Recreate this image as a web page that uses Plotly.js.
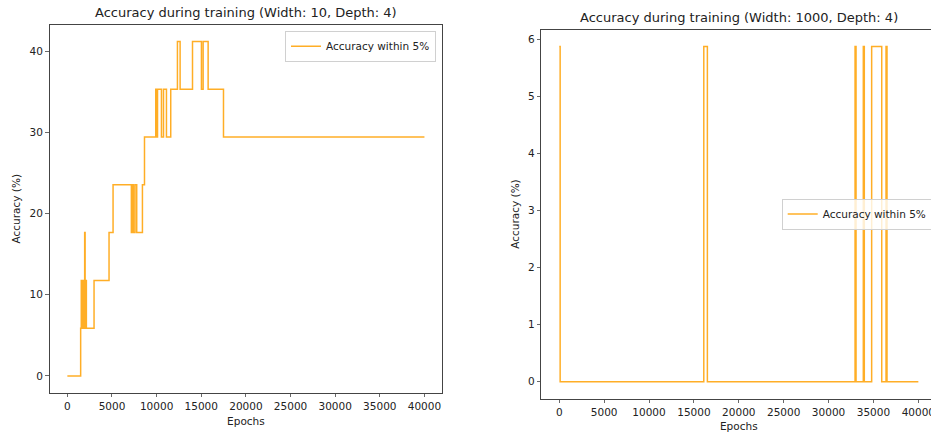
<!DOCTYPE html>
<html>
<head>
<meta charset="utf-8">
<script src="https://cdn.plot.ly/plotly-3.0.1.min.js"></script>
<style>
html, body { margin: 0; padding: 0; overflow: hidden; background: #fff; }
#chart { width: 940px; height: 435px; }
</style>
</head>
<body>
<div id="chart"></div>
<script>
// ---- data ----
const leftTitle = "Accuracy during training (Width: 10, Depth: 4)";
const rightTitle = "Accuracy during training (Width: 1000, Depth: 4)";
const seriesName = "Accuracy within 5%";
const xLabel = "Epochs";
const yLabel = "Accuracy (%)";

const leftEpochs = [0, 1490, 1560, 1620, 1700, 1760, 1840, 1900, 1940, 1990, 2050, 2130, 2990, 4670, 5120,
  7170, 7230, 7400, 7580, 7770, 8410, 8640, 9900, 10000, 10100, 10540, 10770, 11100, 11580,
  12330, 12630, 14020, 15020, 15210, 15770, 17490, 40000];
const leftAcc = [0, 5.88, 11.76, 5.88, 11.76, 5.88, 11.76, 5.88, 17.65, 5.88, 11.76, 5.88, 11.76, 17.65, 23.53,
  17.65, 23.53, 17.65, 23.53, 17.65, 23.53, 29.41, 35.29, 29.41, 35.29, 29.41, 35.29, 29.41, 35.29,
  41.18, 35.29, 41.18, 35.29, 41.18, 35.29, 29.41, 29.41];

const rightEpochs = [0, 100, 16100, 16500, 32950, 33060, 33870, 33980, 34800, 35920, 36400, 36510, 40000];
const rightAcc = [5.88, 0, 5.88, 0, 5.88, 0, 5.88, 0, 5.88, 0, 5.88, 0, 0];

const xTicks = [0, 5000, 10000, 15000, 20000, 25000, 30000, 35000, 40000];
const leftYTicks = [0, 10, 20, 30, 40];
const rightYTicks = [0, 1, 2, 3, 4, 5, 6];

// ---- styling ----
const W = 940, H = 435;
const lineColor = "rgba(255,160,0,0.85)";
const txt = "#222";
const FS = 10.5;
const font = { family: "DejaVu Sans, sans-serif", size: FS, color: txt };

function axisBase(extra) {
  return Object.assign({
    showgrid: false, zeroline: false, showline: true, mirror: true,
    linecolor: "#444", linewidth: 1,
    ticks: "outside", ticklen: 3.5, tickwidth: 0.8, tickcolor: "#444",
    tickfont: { family: font.family, size: FS, color: txt },
    tickmode: "array", automargin: false
  }, extra);
}

const traces = [
  { x: leftEpochs, y: leftAcc, type: "scatter", mode: "lines", line: { color: lineColor, width: 1.5, shape: "hv" },
    name: seriesName, xaxis: "x", yaxis: "y", legend: "legend" },
  { x: rightEpochs, y: rightAcc, type: "scatter", mode: "lines", line: { color: lineColor, width: 1.5, shape: "hv" },
    name: seriesName, xaxis: "x2", yaxis: "y2", legend: "legend2" }
];

const px = v => v / W, py = v => 1 - v / H;
const tfont = { family: font.family, size: FS, color: txt };

const layout = {
  width: W, height: H,
  margin: { l: 0, r: 0, t: 0, b: 0 },
  paper_bgcolor: "#fff", plot_bgcolor: "#fff",
  font: font,
  showlegend: true,
  xaxis: axisBase({ domain: [px(49.5), px(442.3)], range: [-2000, 42000], tickvals: xTicks,
    ticktext: xTicks.map(String), anchor: "y",
    title: { text: xLabel, font: tfont, standoff: 6 } }),
  yaxis: axisBase({ domain: [py(392.7), py(24.7)], range: [-2.06, 43.24], tickvals: leftYTicks,
    ticktext: leftYTicks.map(String), anchor: "x",
    title: { text: yLabel, font: tfont, standoff: 6 } }),
  xaxis2: axisBase({ domain: [px(541.3), px(936.3)], range: [-2000, 42000], tickvals: xTicks,
    ticktext: xTicks.map(String), anchor: "y2",
    title: { text: xLabel, font: tfont, standoff: 6 } }),
  yaxis2: axisBase({ domain: [py(398.5), py(29.5)], range: [-0.294, 6.176], tickvals: rightYTicks,
    ticktext: rightYTicks.map(String), anchor: "x2",
    title: { text: yLabel, font: tfont, standoff: 6 } }),
  legend: { x: px(436), xanchor: "right", y: py(30.7), yanchor: "top",
    bgcolor: "rgba(255,255,255,0.8)", bordercolor: "#d0d0d0", borderwidth: 1,
    font: tfont, itemwidth: 30 },
  legend2: { x: px(781.7), xanchor: "left", y: py(214), yanchor: "middle",
    bgcolor: "rgba(255,255,255,0.8)", bordercolor: "#d0d0d0", borderwidth: 1,
    font: tfont, itemwidth: 30 },
  annotations: [
    { text: leftTitle, xref: "paper", yref: "paper", x: px(245.9), y: py(13), xanchor: "center", yanchor: "middle",
      showarrow: false, font: { family: font.family, size: 13, color: txt } },
    { text: rightTitle, xref: "paper", yref: "paper", x: px(738.8), y: py(18), xanchor: "center", yanchor: "middle",
      showarrow: false, font: { family: font.family, size: 13, color: txt } }
  ]
};

Plotly.newPlot("chart", traces, layout, { displayModeBar: false, staticPlot: true });
</script>
</body>
</html>
